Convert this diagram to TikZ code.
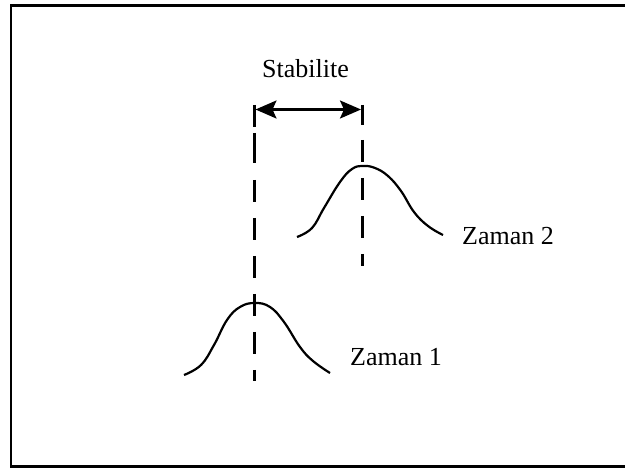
\documentclass[tikz,border=0pt]{standalone}
\usepackage{fontspec}
\setmainfont{Liberation Serif}
\usetikzlibrary{arrows.meta}
\begin{document}
\begin{tikzpicture}[x=1pt,y=-1pt,
  frame/.style={line width=2.4pt},
  guide/.style={line width=3pt},
  guidedash/.style={line width=3pt, dash pattern=on 22pt off 16pt},
  bell/.style={line width=2.2pt, line join=round},
  span/.style={line width=2.3pt, {Stealth[length=21pt,width=18pt,inset=4pt]}-{Stealth[length=21pt,width=18pt,inset=4pt]}},
  lbl/.style={inner sep=0pt, anchor=base west, font=\fontsize{26}{30}\selectfont}]
\useasboundingbox (0,0) rectangle (625,468);
\draw[frame] (626,5.5) -- (10.7,5.5) -- (10.7,466.3) -- (626,466.3);
% guide line 1
\coordinate (g1t) at (254.3,105);
\coordinate (g1b) at (254.3,127);
\draw[guide] (g1t) -- (g1b);
\draw[guide] (254.3,133) -- (254.3,163);
\draw[guidedash] (254.3,180) -- (254.3,381);
% guide line 2
\coordinate (g2t) at (362.3,105);
\coordinate (g2b) at (362.3,125);
\draw[guide] (g2t) -- (g2b);
\draw[guidedash] (362.3,140) -- (362.3,266);
% arrow
\coordinate (a1) at (255.5,109.5);
\coordinate (a2) at (361,109.5);
\draw[span] (a1) -- (a2);
% bells
\draw[bell] plot[smooth, tension=0.7] coordinates {(184,375) (201,365) (214,345) (227,320) (240,307) (255,303) (270,307) (284,322) (300,347) (313,361) (330,373)};
\draw[bell] plot[smooth, tension=0.7] coordinates {(297,237) (312,228) (324,208) (340,182) (352,169) (363,166) (375,168) (388,176) (401,191) (414,212) (428,226) (443,235)};
% labels
\node[lbl] (stab) at (262,78) {Stabilite};
\node[lbl] (z2) at (462,245) {Zaman 2};
\node[lbl] (z1) at (350,366) {Zaman 1};
\end{tikzpicture}
\end{document}
